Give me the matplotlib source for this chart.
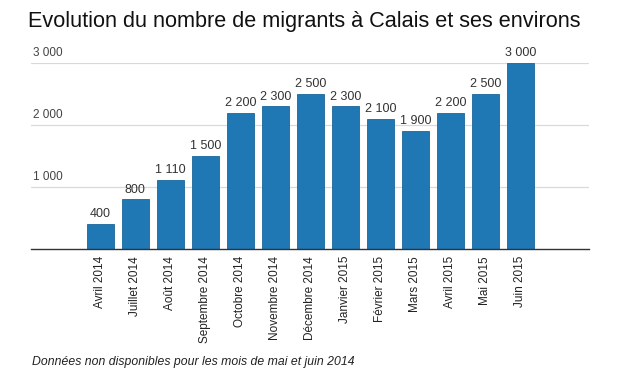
import matplotlib
matplotlib.use("Agg")
import matplotlib.pyplot as plt

# données
mois = ["Avril 2014", "Juillet 2014", "Août 2014", "Septembre 2014", "Octobre 2014",
        "Novembre 2014", "Décembre 2014", "Janvier 2015", "Février 2015", "Mars 2015",
        "Avril 2015", "Mai 2015", "Juin 2015"]
migrants = [400, 800, 1110, 1500, 2200, 2300, 2500, 2300, 2100, 1900, 2200, 2500, 3000]
yticks = [1000, 2000, 3000]


def fmt(v):
    return f"{v:,}".replace(",", " ")


plt.rcParams["font.family"] = ["Liberation Sans", "DejaVu Sans"]

fig = plt.figure(figsize=(6.2, 3.8), dpi=100)
ax = fig.add_axes([31 / 620, 1 - 249 / 380, 558 / 620, (249 - 63) / 380])

x = list(range(len(mois)))
bars = ax.bar(x, migrants, width=0.77, color="#1f77b4", edgecolor="#1b6699",
              linewidth=0.6, zorder=3)
for xi, v in zip(x, migrants):
    ax.text(xi, v + 60, fmt(v), ha="center", va="bottom", fontsize=9, color="#333333")

ax.set_xlim(-1.98, 13.96)
ax.set_ylim(0, 3000)
for y in yticks:
    ax.axhline(y, color="#d9d9d9", linewidth=0.9, zorder=1)
    ax.text(-1.93, y + 70, fmt(y), ha="left", va="bottom", fontsize=8.5, color="#444444")

ax.set_yticks([])
ax.set_xticks(x)
ax.set_xticklabels(mois, rotation=90, fontsize=8.5, color="#222222")
ax.tick_params(axis="x", length=0, pad=5)
for side in ["top", "right", "left"]:
    ax.spines[side].set_visible(False)
ax.spines["bottom"].set_color("#333333")
ax.spines["bottom"].set_linewidth(1.0)
ax.spines["bottom"].set_zorder(4)

fig.text(28 / 620, 1 - 21 / 380, "Evolution du nombre de migrants à Calais et ses environs",
         ha="left", va="center", fontsize=15.6, color="#111111")
fig.text(32 / 620, 1 - 362 / 380, "Données non disponibles pour les mois de mai et juin 2014",
         ha="left", va="center", fontsize=8.8, style="italic", color="#222222")

fig.savefig("out.png", dpi=100)
